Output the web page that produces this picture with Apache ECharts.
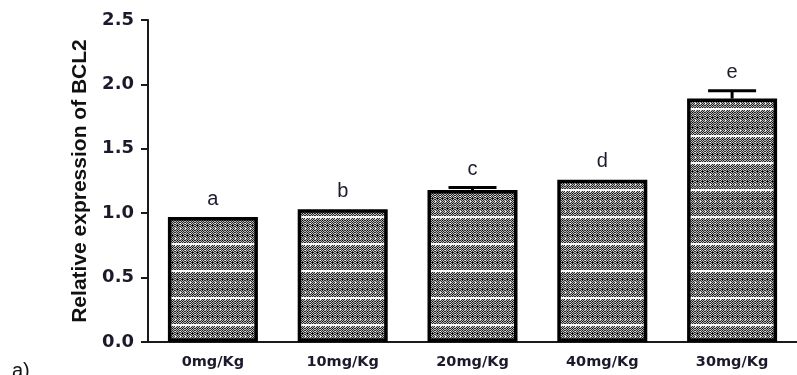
<!DOCTYPE html>
<html><head><meta charset="utf-8">
<script src="https://cdn.jsdelivr.net/npm/echarts@6/dist/echarts.min.js"></script>
<style>html,body{margin:0;padding:0;background:#fff;}#c{width:797px;height:375px;}</style>
</head><body><div id="c"></div>
<script>
const categories = ['0mg/Kg', '10mg/Kg', '20mg/Kg', '40mg/Kg', '30mg/Kg'];
const values = [0.97, 1.03, 1.18, 1.26, 1.89];
const errors = [0, 0, 0.02, 0, 0.06];
const letters = ['a', 'b', 'c', 'd', 'e'];
const yTicks = { min: 0, max: 2.5, interval: 0.5 };
const yTitle = 'Relative expression of BCL2';

// dotted pattern tile
function makePattern() {
  const w = 5, h = 27;
  const cv = document.createElement('canvas');
  cv.width = w; cv.height = h;
  const ctx = cv.getContext('2d');
  const img = ctx.createImageData(w, h);
  for (let y = 0; y < h; y++) {
    for (let x = 0; x < w; x++) {
      let v;
      if (y === 0 || y === 1) v = 245;
      else {
        const ry = (y - 2) % 5;
        if (ry === 2 && x === 2) v = 0;
        else if (ry === 0 && x === 0) v = 255;
        else v = ((x + y) % 2 === 0) ? 40 : 185;
      }
      const i = (y * w + x) * 4;
      img.data[i] = img.data[i + 1] = img.data[i + 2] = v;
      img.data[i + 3] = 255;
    }
  }
  ctx.putImageData(img, 0, 0);
  return cv;
}

const chart = echarts.init(document.getElementById('c'), null, { renderer: 'canvas' });
const axisColor = '#1a1a1a';
chart.setOption({
  animation: false,
  backgroundColor: '#fff',
  textStyle: { fontFamily: 'Liberation Sans' },
  grid: { left: 148, right: -2, top: 20, bottom: 33, containLabel: false },
  xAxis: {
    type: 'category',
    data: categories,
    axisLine: { lineStyle: { color: axisColor, width: 2 } },
    axisTick: { alignWithLabel: true, length: 5, lineStyle: { color: axisColor, width: 2 } },
    axisLabel: { color: '#1a1a2a', fontFamily: 'DejaVu Sans', fontWeight: 'bold', fontSize: 14.5, margin: 13 }
  },
  yAxis: {
    type: 'value',
    min: yTicks.min, max: yTicks.max, interval: yTicks.interval,
    name: '{t|' + yTitle + '}',
    nameLocation: 'middle',
    nameGap: 57,
    nameTextStyle: { color: '#111', rich: { t: { fontFamily: 'Liberation Sans', fontWeight: 'bold', fontSize: 21, color: '#111' } } },
    axisLine: { show: true, lineStyle: { color: axisColor, width: 2 } },
    axisTick: { show: true, length: 7, lineStyle: { color: axisColor, width: 2 } },
    splitLine: { show: false },
    axisLabel: { color: '#1a1a2a', fontFamily: 'DejaVu Sans', fontWeight: 'bold', fontSize: 18, margin: 14,
      formatter: v => v.toFixed(1) }
  },
  series: [
    {
      type: 'bar',
      data: values,
      barWidth: 90,
      itemStyle: { color: { image: makePattern(), repeat: 'repeat' }, borderColor: '#000', borderWidth: 3.5 }
    },
    {
      type: 'custom',
      data: values.map((v, i) => [i, v, errors[i]]),
      renderItem: function (params, api) {
        const i = api.value(0), v = api.value(1), e = api.value(2);
        const base = api.coord([i, v]);
        const topP = api.coord([i, v + e]);
        const children = [];
        if (e > 0) {
          const half = 24;
          children.push({ type: 'line', shape: { x1: base[0], y1: base[1], x2: topP[0], y2: topP[1] }, style: { stroke: '#000', lineWidth: 3 } });
          children.push({ type: 'line', shape: { x1: topP[0] - half, y1: topP[1], x2: topP[0] + half, y2: topP[1] }, style: { stroke: '#000', lineWidth: 3 } });
        }
        children.push({ type: 'text', style: { text: letters[i], x: topP[0], y: topP[1] - 18, align: 'center', verticalAlign: 'middle',
          font: '20px "Liberation Sans"', fill: '#1c1c2c' } });
        return { type: 'group', children: children };
      },
      z: 5
    }
  ],
  graphic: [{ type: 'text', left: 12, top: 361, style: { text: 'a)', font: '20px "Liberation Sans"', fill: '#111' } }]
});
</script></body></html>
